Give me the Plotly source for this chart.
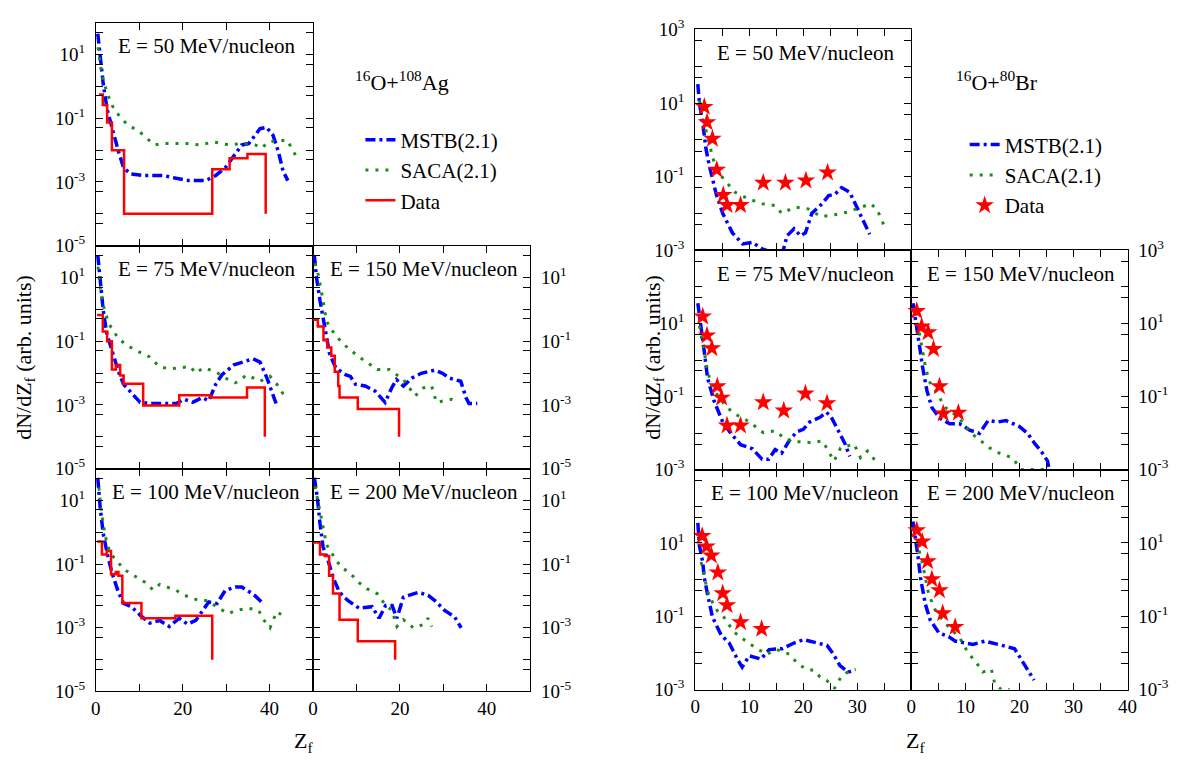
import plotly.graph_objects as go

# ---------------- data: 16O + 108Ag (left group) ----------------
# E = 50 MeV/nucleon
ag50_z_mstb = [0.45, 1.0, 1.7, 2.6, 4.1, 5.2, 6.4, 7.9, 10.9, 15.5, 18.5, 21.5, 25.3, 27.6, 29.8, 32.1, 33.6, 35.2, 36.7, 37.8, 39.3, 40.8, 42.0, 43.1, 44.2]
ag50_mstb = [45, 9.8, 1.2, 0.19, 0.029, 0.0091, 0.0028, 0.0018, 0.0016, 0.0016, 0.0013, 0.0011, 0.0011, 0.0016, 0.0028, 0.0072, 0.0145, 0.016, 0.029, 0.047, 0.052, 0.029, 0.0091, 0.0022, 0.0011]
ag50_z_saca = [0.5, 1.0, 1.7, 2.6, 3.3, 4.4, 7.1, 10.1, 13.5, 15.5, 18.5, 20.8, 23.8, 27.2, 30.7, 33.6, 36.7, 38.2, 39.7, 42.0, 44.2, 45.0, 46.1]
ag50_saca = [17, 4.9, 1.5, 0.6, 0.34, 0.17, 0.066, 0.037, 0.0145, 0.016, 0.016, 0.016, 0.0145, 0.018, 0.0145, 0.016, 0.0145, 0.0115, 0.018, 0.02, 0.02, 0.0115, 0.0065]
ag50_z_data = [0.7, 1.6, 2.6, 3.7, 6.5, 26.8, 30.8, 34.9, 39.1]
ag50_data = [0.56, 0.26, 0.074, 0.0098, 1e-4, 0.0025, 0.0055, 0.0076, 1e-4]

# E = 75 MeV/nucleon
ag75_z_mstb = [0.45, 1.2, 1.7, 2.5, 4.0, 5.2, 6.4, 8.6, 10.2, 12.4, 18.5, 20.4, 22.3, 24.5, 26.0, 27.6, 29.0, 31.8, 33.2, 36.2, 37.8, 39.4, 41.5]
ag75_mstb = [50, 6.2, 0.93, 0.18, 0.035, 0.011, 0.0044, 0.0021, 0.0012, 0.0011, 0.0011, 0.0015, 0.0012, 0.0017, 0.00135, 0.0044, 0.0087, 0.018, 0.021, 0.028, 0.022, 0.0069, 0.0011]
ag75_z_saca = [0.5, 1.0, 1.7, 2.9, 5.2, 7.3, 9.4, 12.4, 14.6, 16.9, 19.2, 21.8, 22.9, 24.8, 27.6, 29.8, 32.1, 34.8, 37.8, 40.1, 41.7, 43.9]
ag75_saca = [22, 4.9, 1.35, 0.37, 0.12, 0.072, 0.05, 0.032, 0.016, 0.0135, 0.0145, 0.016, 0.01, 0.0145, 0.011, 0.0069, 0.0049, 0.0087, 0.0055, 0.0079, 0.0044, 0.0015]
ag75_z_data = [0.3, 1.6, 2.6, 3.7, 4.6, 5.6, 6.4, 10.9, 19.2, 26.4, 34.8, 38.9]
ag75_data = [0.66, 0.2, 0.1, 0.013, 0.018, 0.0083, 0.0046, 0.00095, 0.002, 0.0017, 0.0035, 1e-4]

# E = 100 MeV/nucleon
ag100_z_mstb = [0.45, 1.0, 1.7, 2.6, 3.7, 5.2, 6.4, 8.2, 10.2, 12.4, 14.7, 16.9, 19.2, 21.1, 23.0, 24.5, 26.0, 27.9, 29.8, 32.1, 33.6, 35.5, 36.7, 38.2]
ag100_mstb = [51, 6.0, 0.91, 0.22, 0.054, 0.013, 0.0058, 0.0046, 0.0025, 0.0014, 0.0017, 0.0011, 0.002, 0.0013, 0.0017, 0.0032, 0.0065, 0.0058, 0.015, 0.019, 0.019, 0.013, 0.01, 0.0063]
ag100_z_saca = [0.7, 1.2, 2.2, 3.3, 5.0, 6.4, 9.5, 11.3, 13.2, 14.7, 18.5, 20.4, 23.8, 25.7, 28.3, 30.6, 32.1, 35.2, 37.5, 38.6, 40.1, 41.6, 43.5]
ag100_saca = [25, 4.8, 0.72, 0.22, 0.12, 0.069, 0.038, 0.027, 0.0155, 0.023, 0.015, 0.0105, 0.0072, 0.0072, 0.0041, 0.0028, 0.0035, 0.0041, 0.0035, 0.0018, 0.001, 0.0032, 0.0022]
ag100_z_data = [0.3, 1.4, 2.5, 3.5, 4.6, 5.2, 6.1, 10.5, 18.3, 26.8]
ag100_data = [0.51, 0.2, 0.26, 0.048, 0.056, 0.043, 0.006, 0.002, 0.0024, 1e-4]

# E = 150 MeV/nucleon
ag150_z_mstb = [0.3, 0.8, 1.6, 2.3, 3.1, 3.8, 5.3, 7.6, 8.6, 9.8, 12.0, 14.3, 16.6, 18.1, 19.2, 20.8, 22.7, 24.9, 28.0, 29.8, 31.4, 34.0, 35.2, 35.9, 37.8]
ag150_mstb = [50, 9.8, 1.9, 0.59, 0.115, 0.04, 0.014, 0.0087, 0.0078, 0.0044, 0.0039, 0.0027, 0.0012, 0.0034, 0.0062, 0.0039, 0.0069, 0.0098, 0.0123, 0.0098, 0.0069, 0.0055, 0.0017, 0.0011, 0.0011]
ag150_z_saca = [0.45, 1.2, 1.9, 3.1, 4.2, 6.1, 8.3, 11.7, 14.8, 17.5, 20.8, 23.5, 25.4, 27.3, 28.4, 31.9, 33.4]
ag150_saca = [28, 12, 3.8, 0.42, 0.23, 0.11, 0.056, 0.025, 0.013, 0.013, 0.0062, 0.0019, 0.0034, 0.0039, 0.0012, 0.0015, 0.0012]
ag150_z_data = [0.0, 1.1, 2.4, 3.3, 4.2, 5.0, 5.8, 6.1, 10.3, 19.8]
ag150_data = [0.47, 0.29, 0.107, 0.063, 0.035, 0.011, 0.0039, 0.0017, 0.00074, 1e-4]

# E = 200 MeV/nucleon
ag200_z_mstb = [0.3, 1.0, 1.6, 2.3, 3.4, 4.6, 6.1, 8.0, 10.6, 13.6, 15.2, 16.7, 18.2, 19.3, 20.8, 24.2, 26.5, 28.4, 30.3, 32.6, 34.1]
ag200_mstb = [51, 12, 1.9, 0.35, 0.14, 0.038, 0.013, 0.0072, 0.0041, 0.0046, 0.002, 0.005, 0.005, 0.002, 0.0091, 0.013, 0.0105, 0.0065, 0.0035, 0.0022, 0.001]
ag200_z_saca = [0.45, 1.2, 2.0, 3.1, 4.2, 6.5, 8.3, 10.6, 12.5, 14.8, 16.7, 18.2, 19.3, 20.8, 23.1, 25.4, 26.5, 27.3]
ag200_saca = [28, 8.7, 2.3, 0.41, 0.23, 0.078, 0.056, 0.026, 0.0166, 0.0117, 0.0051, 0.0035, 0.0011, 0.0018, 0.001, 0.00126, 0.002, 0.0011]
ag200_z_data = [0.0, 1.6, 2.7, 3.7, 4.6, 6.1, 10.3, 18.9]
ag200_data = [0.48, 0.2, 0.18, 0.043, 0.012, 0.0018, 0.00038, 1e-4]

# ---------------- data: 16O + 80Br (right group) ----------------
br50_z_mstb = [0.5, 0.8, 1.4, 2.0, 2.6, 3.9, 5.1, 6.9, 8.8, 10.6, 12.4, 14.3, 16.1, 17.0, 18.3, 19.5, 20.4, 21.6, 23.5, 24.7, 25.9, 27.1, 28.6, 30.1, 31.3, 32.3]
br50_mstb = [33, 9.8, 2.95, 0.58, 0.21, 0.034, 0.0102, 0.003, 0.0015, 0.00166, 0.0011, 0.00089, 0.00079, 0.0025, 0.0039, 0.0025, 0.003, 0.0102, 0.0186, 0.031, 0.034, 0.051, 0.038, 0.0126, 0.0056, 0.00275]
br50_z_saca = [0.8, 1.4, 2.3, 3.2, 4.1, 5.9, 7.4, 9.9, 12.4, 14.8, 16.0, 18.5, 20.9, 23.3, 25.8, 28.2, 30.7, 32.5, 33.7, 34.7, 35.3]
br50_saca = [12, 3.5, 1.3, 0.35, 0.14, 0.069, 0.038, 0.025, 0.0186, 0.0166, 0.0102, 0.015, 0.0135, 0.0083, 0.0093, 0.011, 0.015, 0.0186, 0.0126, 0.0056, 0.0036]
br50_z_data = [1.7, 2.2, 3.2, 4.0, 5.2, 5.9, 8.4, 12.6, 16.7, 20.5, 24.5]
br50_data = [7.9, 3.0, 1.07, 0.155, 0.032, 0.017, 0.017, 0.069, 0.069, 0.079, 0.13]

br75_z_mstb = [0.5, 1.1, 1.7, 2.3, 3.5, 5.1, 6.6, 8.4, 10.6, 12.4, 13.6, 14.8, 16.0, 17.5, 18.8, 20.0, 21.2, 23.1, 24.3, 25.2, 26.4, 27.7, 28.6]
br75_mstb = [36, 8.7, 1.66, 0.32, 0.076, 0.02, 0.0098, 0.0048, 0.0037, 0.0019, 0.0019, 0.0035, 0.0028, 0.0065, 0.0107, 0.0126, 0.02, 0.027, 0.037, 0.027, 0.0126, 0.0052, 0.0023]
br75_z_saca = [0.8, 1.4, 2.2, 2.9, 4.4, 5.9, 7.4, 10.1, 12.6, 14.8, 16.9, 19.0, 21.2, 23.6, 24.8, 25.7, 26.9, 29.4, 30.6, 31.9, 33.4]
br75_saca = [8.7, 2.5, 0.6, 0.23, 0.093, 0.05, 0.033, 0.02, 0.0102, 0.0115, 0.0065, 0.0058, 0.0055, 0.006, 0.0028, 0.0017, 0.0039, 0.005, 0.0021, 0.0032, 0.0017]
br75_z_data = [1.4, 2.2, 3.1, 4.1, 4.9, 5.9, 8.4, 12.6, 16.4, 20.4, 24.4]
br75_data = [15.4, 4.7, 2.1, 0.19, 0.093, 0.016, 0.016, 0.069, 0.041, 0.12, 0.065]

br100_z_mstb = [0.5, 0.8, 1.4, 1.7, 2.3, 3.2, 4.8, 6.3, 7.8, 8.7, 10.0, 12.2, 13.7, 16.1, 18.3, 20.1, 22.6, 24.4, 25.6, 26.8, 28.3, 29.6]
br100_mstb = [35, 8.3, 3.0, 1.1, 0.4, 0.095, 0.031, 0.0186, 0.0068, 0.0041, 0.0083, 0.0068, 0.0123, 0.013, 0.0186, 0.023, 0.0186, 0.016, 0.0091, 0.0045, 0.003, 0.0033]
br100_z_saca = [1.1, 1.7, 2.3, 3.2, 4.1, 5.3, 7.1, 8.7, 10.8, 13.2, 15.1, 17.5, 19.0, 20.6, 22.1, 23.1, 24.3, 25.8, 27.0, 28.2, 29.7]
br100_saca = [3.0, 1.1, 0.48, 0.24, 0.14, 0.095, 0.038, 0.025, 0.015, 0.0091, 0.0123, 0.0091, 0.005, 0.0036, 0.0033, 0.0022, 0.0018, 0.0011, 0.0022, 0.003, 0.0036]
br100_z_data = [1.3, 2.1, 3.0, 4.2, 5.1, 5.9, 8.4, 12.3]
br100_data = [15.4, 7.9, 4.5, 1.55, 0.42, 0.2, 0.068, 0.045]

br150_z_mstb = [0.3, 0.8, 1.1, 1.6, 2.0, 2.5, 2.9, 3.8, 5.3, 7.1, 8.9, 10.8, 12.6, 14.2, 16.0, 17.5, 20.0, 21.5, 22.8, 24.0, 25.2, 25.5]
br150_mstb = [36, 13, 7.1, 2.0, 0.74, 0.26, 0.14, 0.05, 0.025, 0.018, 0.018, 0.012, 0.0098, 0.022, 0.02, 0.022, 0.015, 0.0098, 0.0052, 0.0032, 0.0017, 0.001]
br150_z_saca = [0.8, 1.4, 2.0, 2.6, 3.3, 4.5, 6.3, 8.7, 10.8, 12.6, 14.5, 16.3, 18.7, 20.3, 24.8]
br150_saca = [19.5, 5.9, 1.66, 0.66, 0.26, 0.14, 0.05, 0.027, 0.0107, 0.0065, 0.0039, 0.0028, 0.0021, 0.001, 0.001]
br150_z_data = [1.0, 1.9, 3.1, 4.1, 5.2, 5.9, 8.7]
br150_data = [22, 8.3, 5.7, 2.0, 0.19, 0.034, 0.036]

br200_z_mstb = [0.3, 0.8, 1.2, 1.7, 2.2, 2.6, 3.5, 5.1, 6.9, 8.1, 9.6, 11.4, 13.6, 15.7, 17.5, 19.1, 20.3, 21.5, 22.7]
br200_mstb = [38, 12.6, 4.6, 1.1, 0.48, 0.21, 0.078, 0.035, 0.028, 0.021, 0.019, 0.017, 0.021, 0.017, 0.015, 0.013, 0.0068, 0.0036, 0.0018]
br200_z_saca = [0.8, 1.2, 2.0, 2.6, 3.2, 4.4, 6.3, 7.8, 9.0, 10.5, 12.0, 13.2, 14.8, 15.4, 16.6, 18.2]
br200_saca = [21, 8.3, 3.0, 1.1, 0.4, 0.15, 0.063, 0.038, 0.025, 0.01, 0.0055, 0.003, 0.0036, 0.0015, 0.001, 0.001]
br200_z_data = [1.0, 2.0, 3.0, 3.8, 5.2, 5.8, 8.1]
br200_data = [22, 10.8, 3.15, 1.02, 0.51, 0.12, 0.051]

energy_labels = ["E = 50 MeV/nucleon", "E = 75 MeV/nucleon", "E = 150 MeV/nucleon",
                 "E = 100 MeV/nucleon", "E = 200 MeV/nucleon"]

# ---------------- styling / layout ----------------
W, H = 1182, 781
SERIF = "Liberation Serif, Times New Roman, serif"
BLUE = "#0000ff"
GREEN = "#1a8c1a"
RED = "#ff0000"
FS_TICK = 19
FS_TEXT = 21


def fx(p):
    return p / W


def fy(p):
    return 1 - p / H


def sup(k):
    return "10<sup>%d</sup>" % k


fig = go.Figure()
layout = {}
annotations = []

# panel geometry: (x0, x1, y0, y1) in pixels
left_geo = [(92, 312, 10, 240), (92, 312, 240, 470), (312, 532, 240, 470),
            (92, 312, 470, 700), (312, 532, 470, 700)]
right_geo = [(699, 918, 17, 245), (699, 918, 245, 471), (918, 1137, 245, 471),
             (699, 918, 471, 698), (918, 1137, 471, 698)]
# (right column?, bottom row?)
roles = [(False, False), (False, False), (True, False), (False, True), (True, True)]

left_series = [
    (ag50_z_mstb, ag50_mstb, ag50_z_saca, ag50_saca, ag50_z_data, ag50_data),
    (ag75_z_mstb, ag75_mstb, ag75_z_saca, ag75_saca, ag75_z_data, ag75_data),
    (ag150_z_mstb, ag150_mstb, ag150_z_saca, ag150_saca, ag150_z_data, ag150_data),
    (ag100_z_mstb, ag100_mstb, ag100_z_saca, ag100_saca, ag100_z_data, ag100_data),
    (ag200_z_mstb, ag200_mstb, ag200_z_saca, ag200_saca, ag200_z_data, ag200_data),
]
right_series = [
    (br50_z_mstb, br50_mstb, br50_z_saca, br50_saca, br50_z_data, br50_data),
    (br75_z_mstb, br75_mstb, br75_z_saca, br75_saca, br75_z_data, br75_data),
    (br150_z_mstb, br150_mstb, br150_z_saca, br150_saca, br150_z_data, br150_data),
    (br100_z_mstb, br100_mstb, br100_z_saca, br100_saca, br100_z_data, br100_data),
    (br200_z_mstb, br200_mstb, br200_z_saca, br200_saca, br200_z_data, br200_data),
]

axis_common = dict(ticks="inside", ticklen=7, tickwidth=1, tickcolor="black",
                   showline=True, linecolor="black", linewidth=1, mirror="ticks",
                   showgrid=False, zeroline=False,
                   tickfont=dict(family=SERIF, size=FS_TICK, color="black"))
minor_common = dict(ticks="inside", ticklen=7, tickwidth=1, tickcolor="black",
                    showgrid=False)

idx = 0
for group in ("left", "right"):
    geo = left_geo if group == "left" else right_geo
    series = left_series if group == "left" else right_series
    for p in range(5):
        idx += 1
        x0, x1, y0, y1 = geo[p]
        rcol, brow = roles[p]
        xk = "xaxis" if idx == 1 else "xaxis%d" % idx
        yk = "yaxis" if idx == 1 else "yaxis%d" % idx
        xr = "x" if idx == 1 else "x%d" % idx
        yr = "y" if idx == 1 else "y%d" % idx

        if group == "left":
            xall = [0, 10, 20, 30, 40, 50]
            xlab = [0, 20, 40]
            xrange_ = [0, 50]
            exps = list(range(-5, 3))
            lab = [1, -1, -3, -5]
            yrange_ = [-5, 2]
        else:
            xall = [0, 5, 10, 15, 20, 25, 30, 35, 40]
            xlab = [0, 10, 20, 30, 40] if rcol else [0, 10, 20, 30]
            xrange_ = [0, 40]
            exps = list(range(-3, 4))
            lab = [1, -1, -3]
            if p == 0 or p == 2:
                lab = [3, 1, -1, -3]
            yrange_ = [-3, 3]

        xminor = [v for v in xall if v not in xlab]
        ymaj = [10.0 ** k for k in lab]
        ymaj_txt = [sup(k) for k in lab]
        ymin = []
        for k in exps:
            if k not in lab:
                ymin.append(10.0 ** k)
            if k < exps[-1]:
                ymin.append(5 * 10.0 ** k)

        layout[xk] = dict(axis_common, domain=[fx(x0), fx(x1)], anchor=yr,
                          range=xrange_, tickmode="array", tickvals=xlab,
                          ticktext=[str(v) for v in xlab],
                          minor=dict(minor_common, tickvals=xminor),
                          showticklabels=brow)
        layout[yk] = dict(axis_common, domain=[fy(y1), fy(y0)], anchor=xr,
                          type="log", range=yrange_, tickmode="array",
                          tickvals=ymaj, ticktext=ymaj_txt,
                          minor=dict(minor_common, tickvals=ymin),
                          side="right" if rcol else "left",
                          ticklabelstandoff=6)

        zm, vm, zs, vs, zd, vd = series[p]
        lg = "legend" if group == "left" else "legend2"
        first = (p == 0)
        fig.add_trace(go.Scatter(x=zm, y=vm, mode="lines", name="MSTB(2.1)",
                                 line=dict(color=BLUE, width=3.5, dash="10px,4px,3px,4px"),
                                 xaxis=xr, yaxis=yr, showlegend=first, legend=lg))
        fig.add_trace(go.Scatter(x=zs, y=vs, mode="lines", name="SACA(2.1)",
                                 line=dict(color=GREEN, width=3, dash="3px,7px"),
                                 xaxis=xr, yaxis=yr, showlegend=first, legend=lg))
        if group == "left":
            fig.add_trace(go.Scatter(x=zd, y=vd, mode="lines", name="Data",
                                     line=dict(color=RED, width=2.5, shape="hv"),
                                     xaxis=xr, yaxis=yr, showlegend=first, legend=lg))
        else:
            fig.add_trace(go.Scatter(x=zd, y=vd, mode="markers", name="Data",
                                     marker=dict(symbol="star", size=14, color=RED,
                                                 line=dict(width=0)),
                                     xaxis=xr, yaxis=yr, showlegend=first, legend=lg,
                                     cliponaxis=False))

        annotations.append(dict(text=energy_labels[p], xref="paper", yref="paper",
                                x=fx((x0 + x1) / 2 + 2), y=fy(y0 + 24),
                                xanchor="center", yanchor="middle", showarrow=False,
                                font=dict(family=SERIF, size=FS_TEXT, color="black")))

# axis titles and reaction labels
title_font = dict(family=SERIF, size=22, color="black")
annotations += [
    dict(text="dN/dZ<sub>f</sub> (arb. units)", xref="paper", yref="paper",
         x=fx(20), y=fy(355), textangle=-90, showarrow=False, font=title_font,
         xanchor="center", yanchor="middle"),
    dict(text="dN/dZ<sub>f</sub> (arb. units)", xref="paper", yref="paper",
         x=fx(657), y=fy(355), textangle=-90, showarrow=False, font=title_font,
         xanchor="center", yanchor="middle"),
    dict(text="Z<sub>f</sub>", xref="paper", yref="paper", x=fx(302), y=fy(752),
         showarrow=False, font=title_font, xanchor="center", yanchor="middle"),
    dict(text="Z<sub>f</sub>", xref="paper", yref="paper", x=fx(922), y=fy(752),
         showarrow=False, font=title_font, xanchor="center", yanchor="middle"),
    dict(text="<sup>16</sup>O+<sup>108</sup>Ag", xref="paper", yref="paper",
         x=fx(402), y=fy(70), showarrow=False, font=title_font,
         xanchor="center", yanchor="middle"),
    dict(text="<sup>16</sup>O+<sup>80</sup>Br", xref="paper", yref="paper",
         x=fx(1005), y=fy(70), showarrow=False, font=title_font,
         xanchor="center", yanchor="middle"),
]

legend_common = dict(xanchor="left", yanchor="top", bgcolor="rgba(0,0,0,0)",
                     borderwidth=0, tracegroupgap=0, itemsizing="trace",
                     font=dict(family=SERIF, size=FS_TEXT, color="black"))

fig.update_layout(
    width=W, height=H, autosize=False,
    margin=dict(l=0, r=0, t=0, b=0),
    paper_bgcolor="white", plot_bgcolor="rgba(0,0,0,0)",
    annotations=annotations,
    legend=dict(legend_common, x=fx(360), y=fy(110)),
    legend2=dict(legend_common, x=fx(972), y=fy(115)),
    **layout,
)

fig.write_html("out.html", config={"displayModeBar": False},
               post_script="document.body.style.margin='0';document.body.style.overflow='hidden';")
